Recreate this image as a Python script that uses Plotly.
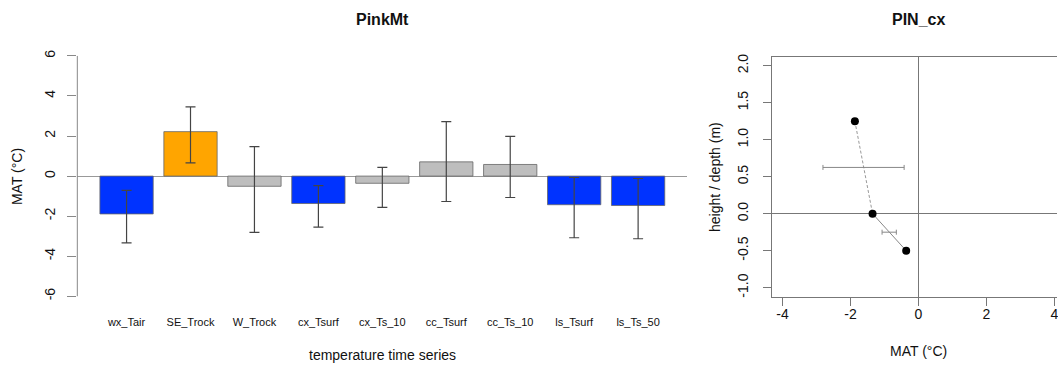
import plotly.graph_objects as go

# ---------------- data ----------------
categories = ["wx_Tair", "SE_Trock", "W_Trock", "cx_Tsurf", "cx_Ts_10",
              "cc_Tsurf", "cc_Ts_10", "ls_Tsurf", "ls_Ts_50"]
mat_values = [-1.89, 2.22, -0.51, -1.37, -0.36, 0.71, 0.58, -1.43, -1.47]
err_top = [-0.71, 3.46, 1.47, -0.48, 0.43, 2.72, 1.98, -0.07, -0.12]
err_bottom = [-3.34, 0.66, -2.81, -2.55, -1.56, -1.27, -1.07, -3.08, -3.13]
bar_colors = ["#0033ff", "#ffa500", "#bebebe", "#0033ff", "#bebebe",
              "#bebebe", "#bebebe", "#0033ff", "#0033ff"]

profile_mat = [-1.87, -1.35, -0.36]
profile_height = [1.25, 0.0, -0.5]
range_height = [0.625, -0.25]
range_low = [-2.81, -1.07]
range_high = [-0.42, -0.65]

left_yticks = [-6, -4, -2, 0, 2, 4, 6]
right_xticks = [-4, -2, 0, 2, 4]
right_yticks = [-1.0, -0.5, 0.0, 0.5, 1.0, 1.5, 2.0]

# ---------------- layout geometry ----------------
W, H = 1058, 365
FONT = "Liberation Sans, Arial, sans-serif"
TXT = "#111111"

def px_x(p):
    return p / W

def px_y(p):
    return 1 - p / H

# barplot positions (R style: width 1, space 0.2)
bar_x = [0.7 + 1.2 * i for i in range(len(categories))]

fig = go.Figure()

fig.add_trace(go.Bar(
    x=bar_x, y=mat_values, width=1.0,
    marker=dict(color=bar_colors, line=dict(color="#666666", width=0.8)),
    error_y=dict(type="data", symmetric=False,
                 array=[t - v for t, v in zip(err_top, mat_values)],
                 arrayminus=[v - b for b, v in zip(err_bottom, mat_values)],
                 color="#444444", thickness=1.2, width=5),
    xaxis="x", yaxis="y", showlegend=False, hoverinfo="skip"))

# profile lines
fig.add_trace(go.Scatter(
    x=profile_mat[0:2], y=profile_height[0:2], mode="lines",
    line=dict(color="#999999", width=1, dash="3px,2px"),
    xaxis="x2", yaxis="y2", showlegend=False, hoverinfo="skip"))
fig.add_trace(go.Scatter(
    x=profile_mat[1:3], y=profile_height[1:3], mode="lines",
    line=dict(color="#888888", width=1),
    xaxis="x2", yaxis="y2", showlegend=False, hoverinfo="skip"))

# horizontal range bars
centers = [(lo + hi) / 2 for lo, hi in zip(range_low, range_high)]
halfw = [(hi - lo) / 2 for lo, hi in zip(range_low, range_high)]
fig.add_trace(go.Scatter(
    x=centers, y=range_height, mode="markers",
    marker=dict(size=1, opacity=0),
    error_x=dict(type="data", array=halfw, color="#888888", thickness=1, width=2.5),
    xaxis="x2", yaxis="y2", showlegend=False, hoverinfo="skip"))

fig.add_trace(go.Scatter(
    x=profile_mat, y=profile_height, mode="markers",
    marker=dict(color="black", size=8),
    xaxis="x2", yaxis="y2", showlegend=False, hoverinfo="skip"))

L_x0, L_x1, L_y0, L_y1 = 77.4, 688.0, 43.8, 306.2
R_x0, R_y0, R_y1 = 772.4, 54.4, 296.8

fig.update_layout(
    width=W, height=H,
    margin=dict(l=0, r=0, t=0, b=0),
    paper_bgcolor="white", plot_bgcolor="white",
    font=dict(family=FONT, color=TXT, size=14),
    xaxis=dict(domain=[px_x(L_x0), px_x(L_x1)], range=[-0.224, 11.224],
               tickvals=bar_x, ticktext=categories, ticks="",
               tickfont=dict(size=11, family=FONT, color=TXT),
               showline=False, showgrid=False, zeroline=False,
               ticklabelstandoff=8, anchor="y", fixedrange=True),
    yaxis=dict(domain=[px_y(L_y1), px_y(L_y0)], range=[-6.48, 6.48],
               tickvals=left_yticks, ticktext=[str(v) for v in left_yticks],
               ticks="outside", ticklen=9, tickcolor="#888888", tickwidth=1,
               tickangle=-90, tickfont=dict(size=14, family=FONT, color=TXT),
               showline=False, showgrid=False,
               zeroline=True, zerolinecolor="#999999", zerolinewidth=1,
               ticklabelstandoff=7, anchor="x", fixedrange=True),
    xaxis2=dict(domain=[px_x(R_x0), 1.0], range=[-4.32, 4.08],
                tickvals=right_xticks, ticktext=[str(v) for v in right_xticks],
                ticks="outside", ticklen=8, tickcolor="#777777", tickwidth=1,
                tickfont=dict(size=14, family=FONT, color=TXT),
                showline=True, linecolor="#777777", linewidth=1, mirror=True,
                showgrid=False, zeroline=True, zerolinecolor="#777777", zerolinewidth=1,
                ticklabeloverflow="allow",
                ticklabelstandoff=-3, anchor="y2", fixedrange=True),
    yaxis2=dict(domain=[px_y(R_y1), px_y(R_y0)], range=[-1.12, 2.12],
                tickvals=right_yticks, ticktext=[f"{v:.1f}" for v in right_yticks],
                ticks="outside", ticklen=8, tickcolor="#777777", tickwidth=1,
                tickangle=-90, tickfont=dict(size=14, family=FONT, color=TXT),
                showline=True, linecolor="#777777", linewidth=1, mirror=False,
                showgrid=False, zeroline=True, zerolinecolor="#777777", zerolinewidth=1,
                ticklabelstandoff=9, anchor="x2", fixedrange=True),
    shapes=[dict(type="line", xref="paper", yref="y",
                 x0=px_x(L_x0), x1=px_x(L_x0), y0=-6, y1=6,
                 line=dict(color="#888888", width=1))],
)

ann = []
def add_text(text, x, y, size=14, bold=False, angle=0):
    ann.append(dict(text=f"<b>{text}</b>" if bold else text,
                    x=px_x(x), y=px_y(y), xref="paper", yref="paper",
                    xanchor="center", yanchor="middle", showarrow=False,
                    textangle=angle, font=dict(size=size, family=FONT, color=TXT)))

add_text("PinkMt", 382.7, 17, size=16, bold=True)
add_text("PIN_cx", 919.3, 17, size=16, bold=True)
add_text("MAT (°C)", 17, 175, angle=-90)
add_text("temperature time series", 382.7, 356)
add_text("height / depth (m)", 715, 175.6, angle=-90)
add_text("MAT (°C)", 919.3, 352)
fig.update_layout(annotations=ann)

fig.write_html("out.html")
